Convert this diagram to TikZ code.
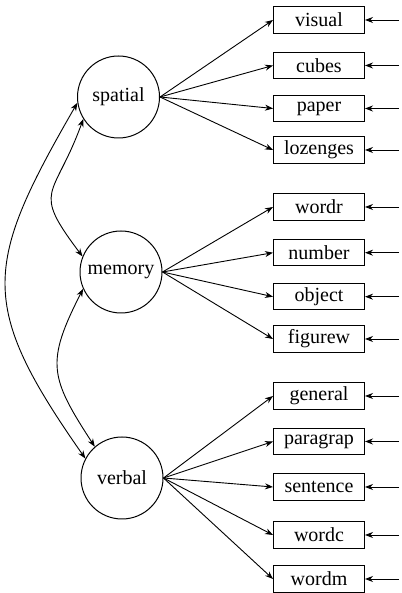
\documentclass[tikz,border=0pt]{standalone}
\usepackage{fontspec}
\setmainfont{Liberation Serif}
\usetikzlibrary{arrows.meta}

\begin{document}
\begin{tikzpicture}[x=1pt, y=1pt,
        font=\fontsize{20}{24}\selectfont,
        latent/.style={circle, draw, line width=1pt, minimum size=82pt, inner sep=0pt},
        manifest/.style={rectangle, draw, line width=1pt, minimum width=91pt, minimum height=26.5pt, inner sep=0pt},
        load/.style={-{Stealth[length=8pt, width=6pt]}, line width=0.9pt},
        cov/.style={{Stealth[length=8pt, width=6pt]}-{Stealth[length=8pt, width=6pt]}, line width=0.9pt}]
        \useasboundingbox (0,0) rectangle (401,593);

        % factors
        \node[latent] (spatial) at (118.5,496) {spatial};
        \node[latent] (memory) at (121,321) {memory};
        \node[latent] (verbal) at (122,115) {verbal};

        % indicators
        \foreach \name/\y in {visual/573, cubes/527.5, paper/484.5, lozenges/443,
                wordr/386, number/340.3, object/296.3, figurew/254,
                general/197, paragrap/151.5, sentence/106, wordc/58, wordm/14}
            \node[manifest] (\name) at (319,\y) {\name};

        % loadings
        \foreach \v in {visual, cubes, paper, lozenges}
            \draw[load] (spatial.east) -- (\v.west);
        \foreach \v in {wordr, number, object, figurew}
            \draw[load] (memory.east) -- (\v.west);
        \foreach \v in {general, paragrap, sentence, wordc, wordm}
            \draw[load] (verbal.east) -- (\v.west);

        % residuals
        \foreach \v in {visual, cubes, paper, lozenges, wordr, number, object, figurew,
                general, paragrap, sentence, wordc, wordm} {
            \path (\v.east) ++(34,0) coordinate (e\v);
            \draw[load] (e\v) -- (\v.east);
        }

        % covariances
        \draw[cov] (spatial.188) to[out=240, in=125, looseness=1.35] (verbal.152);
        \draw[cov] (spatial.212) to[out=250, in=127, looseness=1.6] (memory.158);
        \draw[cov] (memory.204) to[out=243, in=123, looseness=1.34] (verbal.131);
    \end{tikzpicture}
\end{document}
